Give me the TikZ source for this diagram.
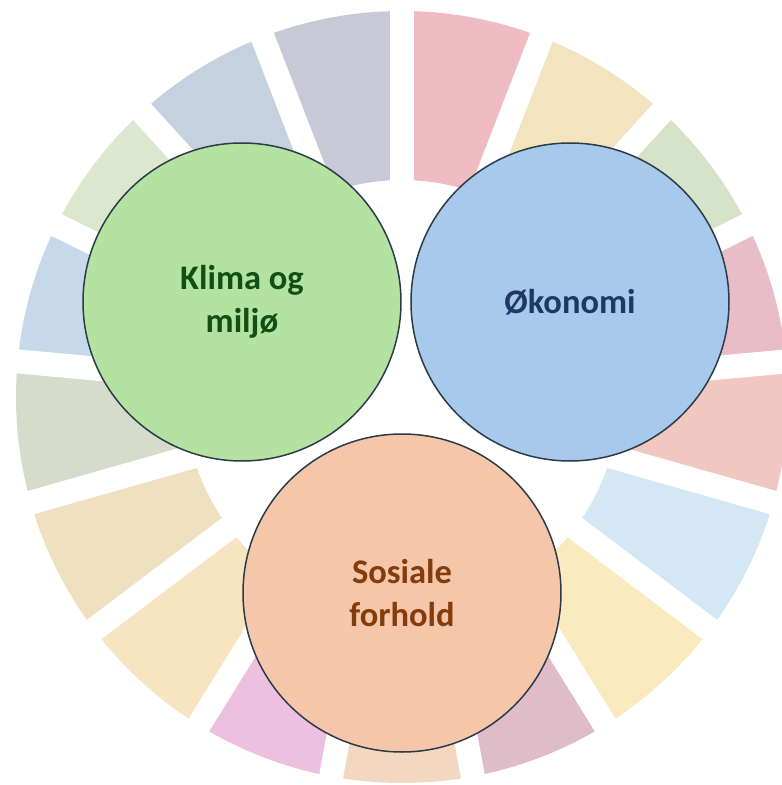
\documentclass[tikz,border=0pt]{standalone}
\usepackage{fontspec}
\setmainfont{Carlito}

\definecolor{goalA}{HTML}{EFBCC4}
\definecolor{goalB}{HTML}{F1E4BE}
\definecolor{goalC}{HTML}{D5E3C8}
\definecolor{goalD}{HTML}{E8BDC7}
\definecolor{goalE}{HTML}{F0C7C1}
\definecolor{goalF}{HTML}{D3E7F5}
\definecolor{goalG}{HTML}{F9EBBD}
\definecolor{goalH}{HTML}{DEBDC8}
\definecolor{goalI}{HTML}{F3D7C0}
\definecolor{goalJ}{HTML}{EDC0DF}
\definecolor{goalK}{HTML}{F7E4C0}
\definecolor{goalL}{HTML}{EFE0C0}
\definecolor{goalM}{HTML}{D5DCCB}
\definecolor{goalN}{HTML}{C5D9EB}
\definecolor{goalO}{HTML}{DBE8CD}
\definecolor{goalP}{HTML}{C6D1E0}
\definecolor{goalQ}{HTML}{C7C9D7}
\definecolor{rim}{HTML}{2B3B47}
\definecolor{klimafill}{HTML}{B3E2A1}
\definecolor{klimatext}{HTML}{124F14}
\definecolor{okofill}{HTML}{A7C9EB}
\definecolor{okotext}{HTML}{1F3864}
\definecolor{sosfill}{HTML}{F5C6AA}
\definecolor{sostext}{HTML}{843C0C}

\tikzset{pillar/.style={circle, draw=rim, line width=1.5pt, minimum size=318pt, inner sep=0pt,
  align=center, font=\bfseries\fontsize{34.5}{43}\selectfont}}

\begin{document}
\begin{tikzpicture}[x=1pt,y=1pt]
\useasboundingbox (-402,-388) rectangle (380,397);
\foreach \c [count=\i] in {goalA,goalB,goalC,goalD,goalE,goalF,goalG,goalH,goalI,goalJ,goalK,goalL,goalM,goalN,goalO,goalP,goalQ} {
  \pgfmathsetmacro\a{90-360/17*(\i-1)}
  \pgfmathsetmacro\b{90-360/17*\i}
  \fill[\c] (\a:217) -- (\a:386) arc [start angle=\a, end angle=\b, radius=386] -- (\b:217) arc [start angle=\b, end angle=\a, radius=217] -- cycle;
}
% white gaps between the goals
\foreach \i in {0,...,16}
  \draw[white, line width=24pt] ({90-360/17*\i}:200) -- ({90-360/17*\i}:400);
\node[pillar, fill=klimafill, text=klimatext] (klima) at (-160,95) {Klima og\\milj\o};
\node[pillar, fill=okofill, text=okotext] (okonomi) at (168,95) {\O konomi};
\node[pillar, fill=sosfill, text=sostext] (sosial) at (0,-196) {Sosiale\\forhold};
\end{tikzpicture}
\end{document}
